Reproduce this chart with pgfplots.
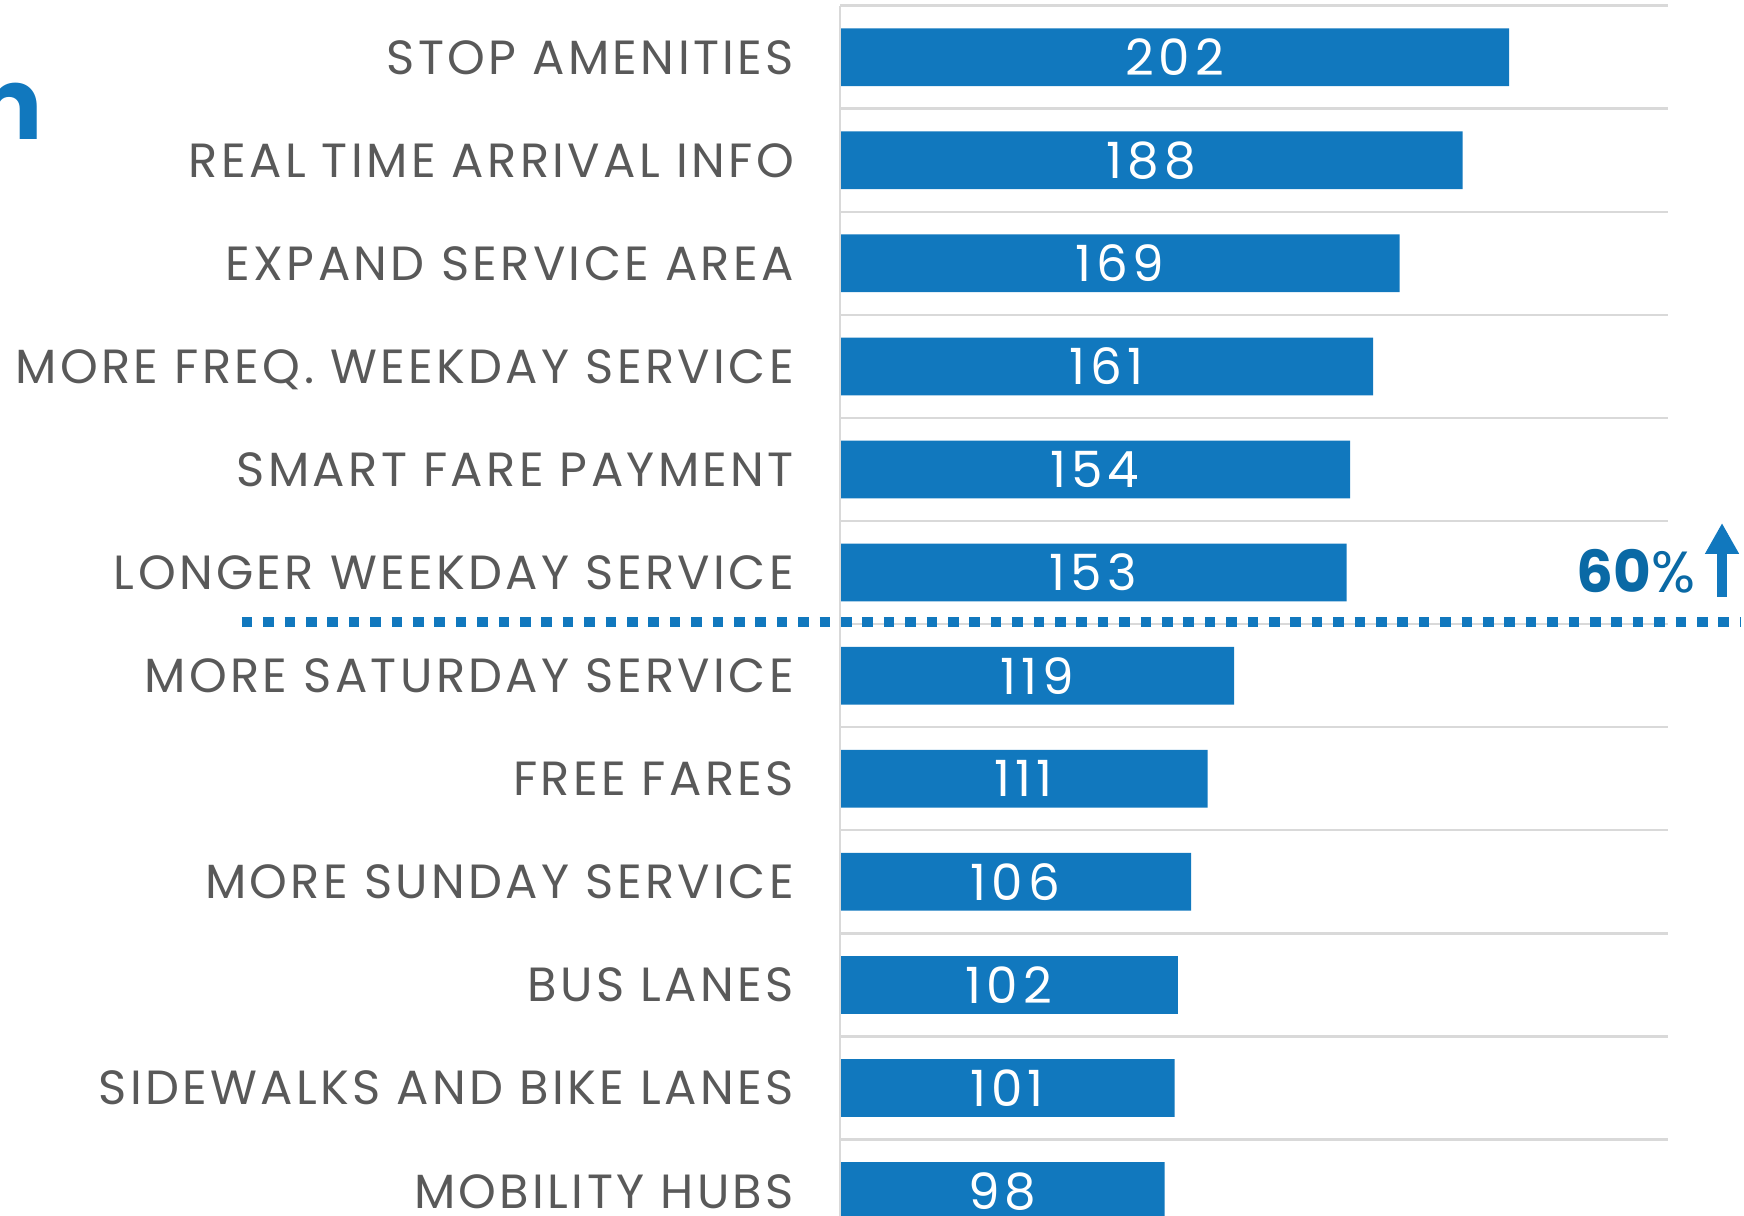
\documentclass[border=0pt]{standalone}
\usepackage{pgfplots}
\pgfplotsset{compat=1.18}
\usepackage{pgfplotstable}
\usepackage{fontspec}
\setmainfont{Poppins}
\newfontfamily\labfont[LetterSpace=7]{Poppins}
\newfontfamily\numfont[LetterSpace=10]{Poppins}
\usetikzlibrary{arrows.meta}
\definecolor{barblue}{RGB}{17,120,190}
\definecolor{darkblue}{RGB}{10,105,165}
\definecolor{labgray}{RGB}{89,89,89}
\definecolor{gridgray}{RGB}{217,217,217}

\pgfplotstableread{
y value
0 202
1 188
2 169
3 161
4 154
5 153
6 119
7 111
8 106
9 102
10 101
11 98
}\datatable

\begin{document}
\begin{tikzpicture}
\begin{axis}[
  at={(210pt,-1.4pt)}, anchor=north west,
  scale only axis, width=207pt, height=309.25pt,
  xbar, bar shift=0pt, bar width=0.56,
  xmin=0, xmax=250, ymin=-0.5, ymax=11.5,
  y dir=reverse,
  axis line style={draw=none},
  xtick=\empty,
  ytick={0,...,11},
  yticklabels={STOP AMENITIES, REAL TIME ARRIVAL INFO, EXPAND SERVICE AREA, MORE FREQ. WEEKDAY SERVICE, SMART FARE PAYMENT, LONGER WEEKDAY SERVICE, MORE SATURDAY SERVICE, FREE FARES, MORE SUNDAY SERVICE, BUS LANES, SIDEWALKS AND BIKE LANES, MOBILITY HUBS},
  major tick length=0pt, minor tick length=0pt,
  minor ytick={-0.5,0.5,...,11.5},
  yminorgrids=true,
  minor grid style={draw=gridgray, line width=0.6pt},
  yticklabel style={anchor=east, font=\labfont\fontsize{12}{12}\selectfont, text=labgray, text depth=0pt, xshift=-8pt},
  clip=false,
  /pgf/number format/assume math mode=true,
  visualization depends on={rawx \as \rawx},
  nodes near coords,
  nodes near coords style={anchor=center, text=white, font=\numfont\fontsize{12.5}{12.5}\selectfont, text depth=0pt, shift={(axis direction cs:-0.5*\rawx,0)}},
  point meta=explicit,
]
\addplot[fill=barblue, draw=none] table[x=value, y=y, meta=value] {\datatable};
\draw[gridgray, line width=0.6pt] (axis cs:0,-0.5) -- (axis cs:0,11.5);
\draw[barblue, line width=2.5pt, dash pattern=on 2.65pt off 2.7pt] (axis cs:-180.6,5.48) -- (axis cs:272,5.48);
\end{axis}
\node[anchor=base east, text=darkblue, inner sep=0pt, font=\fontsize{14.5}{14.5}\selectfont] at (424pt,-148.25pt) {\textbf{60}\%};
\draw[barblue, line width=2.5pt, -{Triangle[width=8pt,length=7.75pt]}] (430.5pt,-149.25pt) -- (430.5pt,-130.75pt);
\node[anchor=base east, text=barblue, inner sep=0pt, font=\bfseries\fontsize{25}{25}\selectfont] at (11pt,-35pt) {n};
\pgfresetboundingbox
\useasboundingbox (0,0) rectangle (436pt,-304pt);
\end{tikzpicture}
\end{document}
